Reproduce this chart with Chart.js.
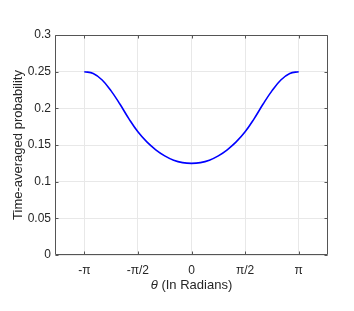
<!DOCTYPE html>
<html>
<head>
<meta charset="utf-8">
<script src="https://cdn.jsdelivr.net/npm/chart.js@4"></script>
<style>
  html, body { margin: 0; padding: 0; background: #ffffff; }
  #wrap { width: 354px; height: 311px; }
</style>
</head>
<body>
<div id="wrap"><canvas id="c" width="354" height="311"></canvas></div>
<script>
// ---- data ----
const thetaValues = [
  -3.1416, -2.8798, -2.6180, -2.3562, -2.0944, -1.8326, -1.5708, -1.3090, -1.0472, -0.7854, -0.5236, -0.2618,
  0,
  0.2618, 0.5236, 0.7854, 1.0472, 1.3090, 1.5708, 1.8326, 2.0944, 2.3562, 2.6180, 2.8798, 3.1416
];
const probabilityValues = [
  0.2500, 0.2475, 0.2387, 0.2238, 0.2055, 0.1857, 0.1680, 0.1542, 0.1435, 0.1352, 0.1293, 0.1260,
  0.1250,
  0.1260, 0.1293, 0.1352, 0.1435, 0.1542, 0.1680, 0.1857, 0.2055, 0.2238, 0.2387, 0.2475, 0.2500
];
const xTickValues = [-3.14159265, -1.57079633, 0, 1.57079633, 3.14159265];
const xTickLabels = ['-\u03C0', '-\u03C0/2', '0', '\u03C0/2', '\u03C0'];
const yTickValues = [0, 0.05, 0.1, 0.15, 0.2, 0.25, 0.3];
const yTickLabels = ['0', '0.05', '0.1', '0.15', '0.2', '0.25', '0.3'];
const xTitleSymbol = '\u03B8';
const xTitleRest = ' (In Radians)';
const yTitle = 'Time-averaged probability';

const points = thetaValues.map((t, i) => ({ x: t, y: probabilityValues[i] }));

const TEXT = '#262626';
const FONT = 'Liberation Sans, Arial, Helvetica, sans-serif';

const boxPlugin = {
  id: 'matlabBox',
  afterDraw(chart) {
    const ctx = chart.ctx;
    const a = chart.chartArea;
    const xs = chart.scales.x, ys = chart.scales.y;
    ctx.save();
    ctx.strokeStyle = '#555555';
    ctx.lineWidth = 1;
    const L = Math.round(a.left) + 0.5, R = Math.round(a.right) - 0.5;
    const T = Math.round(a.top) + 0.5, B = Math.round(a.bottom) - 0.5;
    ctx.beginPath();
    ctx.rect(L, T, R - L, B - T);
    ctx.stroke();
    const tl = 3;
    ctx.beginPath();
    xTickValues.forEach(v => {
      const px = Math.round(xs.getPixelForValue(v)) + 0.5;
      ctx.moveTo(px, B); ctx.lineTo(px, B - tl);
      ctx.moveTo(px, T); ctx.lineTo(px, T + tl);
    });
    yTickValues.forEach(v => {
      const py = Math.round(ys.getPixelForValue(v)) + 0.5;
      ctx.moveTo(L, py); ctx.lineTo(L + tl, py);
      ctx.moveTo(R, py); ctx.lineTo(R - tl, py);
    });
    ctx.stroke();

    // axis titles
    ctx.fillStyle = TEXT;
    ctx.textBaseline = 'middle';
    const cx = (a.left + a.right) / 2;
    const ty = 285;
    ctx.font = 'italic 13px ' + FONT;
    const w1 = ctx.measureText(xTitleSymbol).width;
    ctx.font = '13px ' + FONT;
    const w2 = ctx.measureText(xTitleRest).width;
    let sx = cx - (w1 + w2) / 2;
    ctx.textAlign = 'left';
    ctx.font = 'italic 13px ' + FONT;
    ctx.fillText(xTitleSymbol, sx, ty);
    ctx.font = '13px ' + FONT;
    ctx.fillText(xTitleRest, sx + w1, ty);

    ctx.translate(18, (a.top + a.bottom) / 2);
    ctx.rotate(-Math.PI / 2);
    ctx.textAlign = 'center';
    ctx.fillText(yTitle, 0, 0);
    ctx.restore();
  }
};

new Chart(document.getElementById('c'), {
  type: 'line',
  data: {
    datasets: [{
      data: points,
      borderColor: '#0000ff',
      borderWidth: 1.6,
      pointRadius: 0,
      fill: false,
      tension: 0.4
    }]
  },
  options: {
    responsive: false,
    animation: false,
    events: [],
    layout: { padding: { left: 0, right: 26, top: 35, bottom: 0 } },
    plugins: { legend: { display: false }, tooltip: { enabled: false } },
    scales: {
      x: {
        type: 'linear',
        min: -4,
        max: 4,
        afterFit(s) { s.height = 56; },
        afterBuildTicks(s) { s.ticks = xTickValues.map(v => ({ value: v })); },
        border: { display: false },
        grid: { color: '#e8e8e8', lineWidth: 1, drawTicks: false },
        ticks: {
          padding: 8,
          color: TEXT,
          font: { family: FONT, size: 12 },
          maxRotation: 0,
          autoSkip: false,
          callback: (v, i) => xTickLabels[i]
        }
      },
      y: {
        type: 'linear',
        min: 0,
        max: 0.3,
        afterFit(s) { s.width = 55; },
        afterBuildTicks(s) { s.ticks = yTickValues.map(v => ({ value: v })); },
        border: { display: false },
        grid: { color: '#e8e8e8', lineWidth: 1, drawTicks: false },
        ticks: {
          padding: 4,
          color: TEXT,
          font: { family: FONT, size: 12 },
          autoSkip: false,
          callback: (v, i) => yTickLabels[i]
        }
      }
    }
  },
  plugins: [boxPlugin]
});
</script>
</body>
</html>
